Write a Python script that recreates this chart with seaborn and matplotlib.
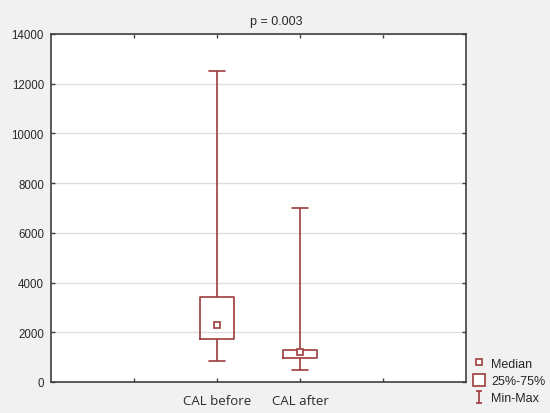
import numpy as np
import pandas as pd
import seaborn as sns
import matplotlib
matplotlib.use("Agg")
import matplotlib.pyplot as plt
from matplotlib.lines import Line2D
from matplotlib.path import Path

# Summary values: min, q1, median, q3, max
groups = ['CAL before', 'CAL after']
mins = [830, 500]
q1s = [1740, 950]
medians = [2290, 1200]
q3s = [3420, 1290]
maxs = [12500, 7000]

# five points per group -> seaborn computes exactly these quartiles with whis=(0, 100)
rows = []
for g, a, b, c, d, e in zip(groups, mins, q1s, medians, q3s, maxs):
    for v in (a, b, c, d, e):
        rows.append((g, v))
df = pd.DataFrame(rows, columns=['group', 'value'])

red = '#9e3b3b'

sns.set_style('white')
plt.rcParams['font.family'] = ['Liberation Sans', 'DejaVu Sans']

fig = plt.figure(figsize=(5.5, 4.14), dpi=100)
fig.patch.set_facecolor('#f1f1f1')
ax = fig.add_axes([0.0927, 0.0749, 0.7546, 0.8406])
ax.set_facecolor('white')

sns.boxplot(data=df, x='group', y='value', order=groups, whis=(0, 100),
            width=0.4, fill=False, color=red, linewidth=1.2, showcaps=True,
            medianprops={'visible': False}, showfliers=False, ax=ax)
for line in ax.lines:
    line.set_color(red)
    xs = np.asarray(line.get_xdata(), dtype=float)
    ys = np.asarray(line.get_ydata(), dtype=float)
    # caps are half as wide as the boxes
    if len(xs) == 2 and xs[0] != xs[1] and ys[0] == ys[1]:
        c = xs.mean()
        line.set_xdata([c - 0.1, c + 0.1])
for patch in ax.patches:
    patch.set_edgecolor(red)

ax.plot(groups, medians, linestyle='none', marker='s', markersize=4,
        markerfacecolor='white', markeredgecolor=red, markeredgewidth=1.2, zorder=5)

ax.set_xlim(-2, 3)
ax.set_ylim(0, 14000)
ax.set_xticks([-1, 0, 1, 2])
ax.set_xticklabels(['', 'CAL before', 'CAL after', ''], fontsize=9.5, color='#2a2a2a',
                   family=['Open Sans', 'DejaVu Sans'])
ax.set_yticks(np.arange(0, 14001, 2000))
ax.set_yticklabels([str(v) for v in range(0, 14001, 2000)], fontsize=8.3, color='#2a2a2a')
ax.set_xlabel('')
ax.set_ylabel('')
ax.yaxis.grid(True, color='#dddddd', linewidth=1)
ax.set_axisbelow(True)
ax.tick_params(direction='in', length=3, width=1, color='#404040',
               top=True, right=True, left=True, bottom=True)
ax.tick_params(axis='x', pad=9)
ax.tick_params(axis='y', pad=5)
for s in ax.spines.values():
    s.set_visible(True)
    s.set_color('#404040')
    s.set_linewidth(1.2)

fig.text(0.502, 0.947, 'p = 0.003', ha='center', va='center', fontsize=9, color='#2a2a2a')

ibeam = Path([(-0.5, -1), (0.5, -1), (0, -1), (0, 1), (-0.5, 1), (0.5, 1)],
             [Path.MOVETO, Path.LINETO, Path.MOVETO, Path.LINETO, Path.MOVETO, Path.LINETO])
handles = [
    Line2D([], [], linestyle='none', marker='s', markersize=4.5, markerfacecolor='white',
           markeredgecolor=red, markeredgewidth=1.2),
    Line2D([], [], linestyle='none', marker='s', markersize=9, markerfacecolor='white',
           markeredgecolor=red, markeredgewidth=1.2),
    Line2D([], [], linestyle='none', marker=ibeam, markersize=9, markerfacecolor='none',
           markeredgecolor=red, markeredgewidth=1.2),
]
fig.legend(handles, ['Median', '25%-75%', 'Min-Max'], loc='lower left',
           bbox_to_anchor=(0.845, 0.0), frameon=False, fontsize=9,
           handlelength=0.9, handletextpad=0.5, labelspacing=0.42, borderpad=0.2)

fig.savefig('out.png', dpi=100, facecolor=fig.get_facecolor())
